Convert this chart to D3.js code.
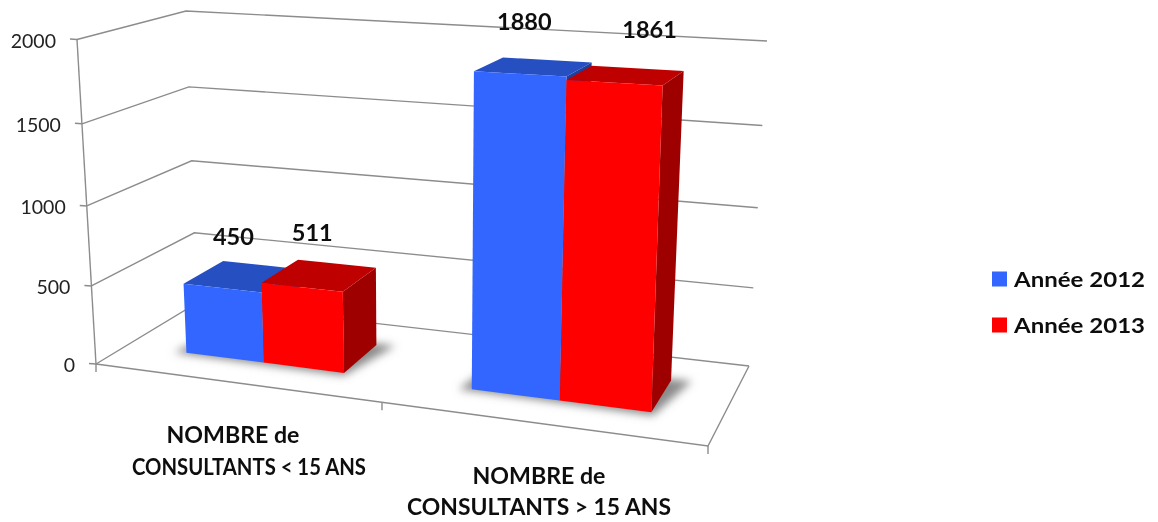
<!DOCTYPE html>
<html><head><meta charset="utf-8">
<script src="https://cdn.jsdelivr.net/npm/d3@7"></script>
<style>html,body{margin:0;padding:0;background:#fff}svg{display:block}text{font-family:Lato,"Open Sans",sans-serif;fill:#111}</style>
</head><body><svg id="c" width="1158" height="522"></svg>
<script>
const categories = ["NOMBRE de\nCONSULTANTS < 15 ANS", "NOMBRE de\nCONSULTANTS > 15 ANS"];
const seriesNames = ["Année 2012", "Année 2013"];
const values2012 = [450, 1880];
const values2013 = [511, 1861];
const valueTicks = [0, 500, 1000, 1500, 2000];

const colors = [
  {front:"#3366ff", top:"#274fc2", side:"#1f3f9c"},
  {front:"#ff0000", top:"#bf0000", side:"#9e0000"}
];
const series = [values2012, values2013];

// chart box corners on screen (f/b = front/back, l/r = left/right, 0/1 = bottom/top)
const box = {
  fl0:[96,364], fl1:[77,39.5], fr0:[708,446], fr1:[723,74],
  bl0:[197,303], bl1:[186,11], br0:[749,366], br1:[767,41]
};
const warp = (t,k) => t/(t+k*(1-t));
const yScale = d3.scaleLinear().domain([0,2000]).range([0,1]);
const mix = (a,b,t) => [a[0]+(b[0]-a[0])*t, a[1]+(b[1]-a[1])*t];
function project(u, value, w){
  const U = warp(u,1.14), V = warp(yScale(value),1.053);
  const f0 = mix(box.fl0,box.fr0,U), f1 = mix(box.fl1,box.fr1,U);
  const b0 = mix(box.bl0,box.br0,U), b1 = mix(box.bl1,box.br1,U);
  return mix(mix(f0,b0,w), mix(f1,b1,w), V);
}

const x0 = d3.scaleBand().domain(d3.range(categories.length)).range([.004,1.004]).paddingInner(.432).paddingOuter(.216);
const x1 = d3.scaleBand().domain(d3.range(series.length)).range([0,x0.bandwidth()]);
const depthNear = .31, depthFar = .72;

const svg = d3.select("#c");
const defs = svg.append("defs");
defs.append("filter").attr("id","sh").attr("x","-20%").attr("y","-50%").attr("width","140%").attr("height","200%")
  .append("feGaussianBlur").attr("stdDeviation",4);
defs.append("filter").attr("id","soft").attr("x","-2%").attr("y","-2%").attr("width","104%").attr("height","104%")
  .append("feGaussianBlur").attr("stdDeviation",.35);

const root = svg.append("g").attr("filter","url(#soft)");
const gridColor = "#8c8c8c";
const seg = (g,pts,c=gridColor,sw=1.4) => g.append("path").attr("d",d3.line()(pts)).attr("fill","none").attr("stroke",c).attr("stroke-width",sw);

// walls and floor
const grid = root.append("g");
valueTicks.forEach(v=>{
  const a=project(0,v,0), b=project(0,v,1), c=project(1,v,1);
  seg(grid,[a,b,c]);
  seg(grid,[[a[0]-7,a[1]-.5],a]);
});
seg(grid,[project(0,0,0),project(1,0,0),project(1,0,1)]);
seg(grid,[project(0,0,0),project(0,2000,0)]);
[0,.5,1].forEach(u=>{const p=project(u,0,0); seg(grid,[p,[p[0],p[1]+8]]);});

// value labels
root.append("g").selectAll("text").data(valueTicks).join("text")
  .attr("x",d=>project(0,d,0)[0]-21).attr("y",d=>project(0,d,0)[1]+1)
  .attr("dy","0.36em").attr("text-anchor","end").attr("font-size",19.5).style("fill","#222").text(d=>d);

// bars
const poly = (g,pts,fill) => g.append("polygon").attr("points",pts.map(p=>p.join(",")).join(" ")).attr("fill",fill);
const barsG = root.append("g");
categories.forEach((cat,ci)=>{
  const start=x0(ci), end=start+x0.bandwidth();
  const e=.012;
  poly(barsG,[project(start-e*1.6,0,depthNear-.02),project(end+e*.4,0,depthNear-.035),project(end+e*2.6,0,depthFar+.02),project(start,0,depthFar)],"#8a8a8a")
    .attr("filter","url(#sh)");
  series.forEach((vals,si)=>{
    const a=start+x1(si), b=a+x1.bandwidth(), v=vals[ci], c=colors[si];
    poly(barsG,[project(b,0,depthNear),project(b,0,depthFar),project(b,v,depthFar),project(b,v,depthNear)],c.side);
    poly(barsG,[project(a,v,depthNear),project(b,v,depthNear),project(b,v,depthFar),project(a,v,depthFar)],c.top);
    poly(barsG,[project(a,0,depthNear),project(b,0,depthNear),project(b,v,depthNear),project(a,v,depthNear)],c.front);
  });
});

// data labels, offset from the centre of each bar's top
const labelOffsets = [[[-8,-40],[-7,-43]],[[-9,-45],[24,-46]]];
categories.forEach((cat,ci)=>{
  series.forEach((vals,si)=>{
    const a=x0(ci)+x1(si), m=a+x1.bandwidth()/2, v=vals[ci];
    const p=project(m,v,(depthNear+depthFar)/2), o=labelOffsets[ci][si];
    root.append("text").attr("x",p[0]+o[0]).attr("y",p[1]+o[1]).attr("dy","0.36em")
      .attr("text-anchor","middle").attr("font-size",23.5).attr("font-weight",700).text(v);
  });
});

// category labels
const catX = [[233,249],[539,539]], catY = [[435,467],[476,507]], catW = [[133,234],[133,264]];
categories.forEach((cat,ci)=>{
  cat.split("\n").forEach((line,li)=>{
    root.append("text").attr("x",catX[ci][li]).attr("y",catY[ci][li]).attr("dy","0.36em")
      .attr("text-anchor","middle").attr("font-size",22).attr("font-weight",700)
      .attr("textLength",catW[ci][li]).attr("lengthAdjust","spacingAndGlyphs").text(line);
  });
});

// legend
const legendY = d3.scalePoint().domain(seriesNames).range([279,325]);
const lg = root.append("g").selectAll("g").data(seriesNames).join("g").attr("transform",d=>`translate(992,${legendY(d)})`);
lg.append("rect").attr("y",-7.5).attr("width",15).attr("height",15).attr("fill",(d,i)=>colors[i].front);
lg.append("text").attr("x",22).attr("dy","0.36em").attr("font-size",21.5).attr("font-weight",700)
  .attr("textLength",131).attr("lengthAdjust","spacingAndGlyphs").text(d=>d);
</script></body></html>
